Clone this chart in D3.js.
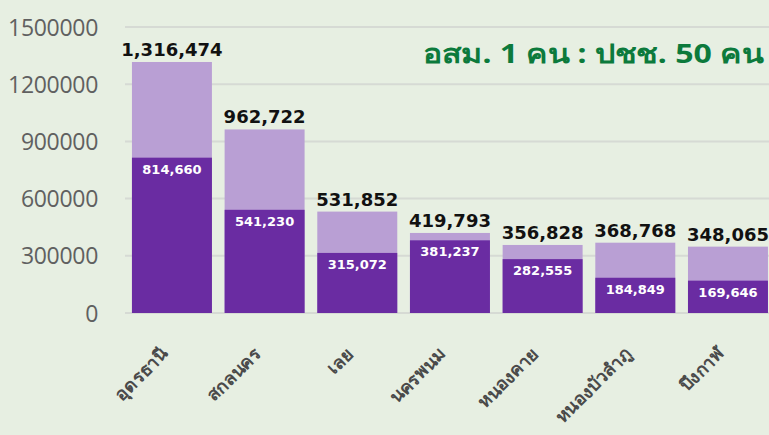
<!DOCTYPE html>
<html><head><meta charset="utf-8">
<script src="https://cdn.jsdelivr.net/npm/d3@7"></script>
<style>
html,body{margin:0;padding:0;background:#e7efe2;}
svg{display:block;}
</style></head>
<body>
<svg id="c" width="769" height="435"></svg>
<script>
const provinces = ["อุดรธานี","สกลนคร","เลย","นครพนม","หนองคาย","หนองบัวลำภู","บึงกาฬ"];
const totals = [1316474, 962722, 531852, 419793, 356828, 368768, 348065];
const volunteers = [814660, 541230, 315072, 381237, 282555, 184849, 169646];
const yTicks = [0, 300000, 600000, 900000, 1200000, 1500000];
const title = "อสม. 1 คน : ปชช. 50 คน";

const svg = d3.select("#c");
const W = 769, H = 435;
svg.append("rect").attr("width", W).attr("height", H).attr("fill", "#e7efe2");

const y = d3.scaleLinear().domain([0, 1500000]).range([313, 27]);
const x = d3.scaleBand().domain(provinces).range([125.6, 774.3]).paddingInner(0.137).paddingOuter(0.0685);

const yAxis = d3.axisLeft(y).tickValues(yTicks).tickSize(0).tickFormat(d3.format("d"));
const gy = svg.append("g").attr("transform", "translate(98,0)").call(yAxis);
gy.select(".domain").remove();
gy.selectAll("text").attr("x", 0).attr("dy", "0.35em")
  .attr("font-family", "'Open Sans', sans-serif").attr("font-size", 23)
  .attr("fill", "#606060").attr("letter-spacing", "-0.3");

svg.append("g").selectAll("line").data(yTicks).join("line")
  .attr("x1", 125).attr("x2", W).attr("y1", d => y(d)).attr("y2", d => y(d))
  .attr("stroke", "#d6dad4").attr("stroke-width", 2);

const bars = svg.append("g");
bars.selectAll("rect.tot").data(provinces).join("rect").attr("class", "tot")
  .attr("x", d => x(d)).attr("width", x.bandwidth())
  .attr("y", (d, i) => y(totals[i])).attr("height", (d, i) => y(0) - y(totals[i]))
  .attr("fill", "#b99fd4");
bars.selectAll("rect.vol").data(provinces).join("rect").attr("class", "vol")
  .attr("x", d => x(d)).attr("width", x.bandwidth())
  .attr("y", (d, i) => y(volunteers[i])).attr("height", (d, i) => y(0) - y(volunteers[i]))
  .attr("fill", "#6a2ca2");

const fmt = d3.format(",");
svg.append("g").selectAll("text").data(provinces).join("text")
  .attr("x", d => x(d) + x.bandwidth() / 2).attr("y", (d, i) => y(totals[i]) - 6)
  .attr("text-anchor", "middle")
  .attr("font-family", "'DejaVu Sans', sans-serif").attr("font-weight", "bold").attr("font-size", 18)
  .attr("fill", "#111").text((d, i) => fmt(totals[i]));

svg.append("g").selectAll("text").data(provinces).join("text")
  .attr("x", d => x(d) + x.bandwidth() / 2).attr("y", (d, i) => y(volunteers[i]) + 16)
  .attr("text-anchor", "middle")
  .attr("font-family", "'DejaVu Sans', sans-serif").attr("font-weight", "bold").attr("font-size", 13)
  .attr("fill", "#fff").text((d, i) => fmt(volunteers[i]));

svg.append("g").selectAll("text").data(provinces).join("text")
  .attr("transform", d => `translate(${x(d) + x.bandwidth() / 2 - 3},${355}) rotate(-45)`)
  .attr("text-anchor", "end")
  .attr("font-family", "'Noto Sans', sans-serif").attr("font-weight", "bold").attr("font-size", 18)
  .attr("fill", "#4a4a4a").text(d => d);

svg.append("text").attr("x", 763).attr("y", 63).attr("text-anchor", "end")
  .attr("font-family", "'Noto Sans', sans-serif").attr("font-weight", "bold").attr("font-size", 27)
  .attr("textLength", 340).attr("lengthAdjust", "spacingAndGlyphs")
  .attr("fill", "#0c7a3c").text(title);
</script>
</body></html>
